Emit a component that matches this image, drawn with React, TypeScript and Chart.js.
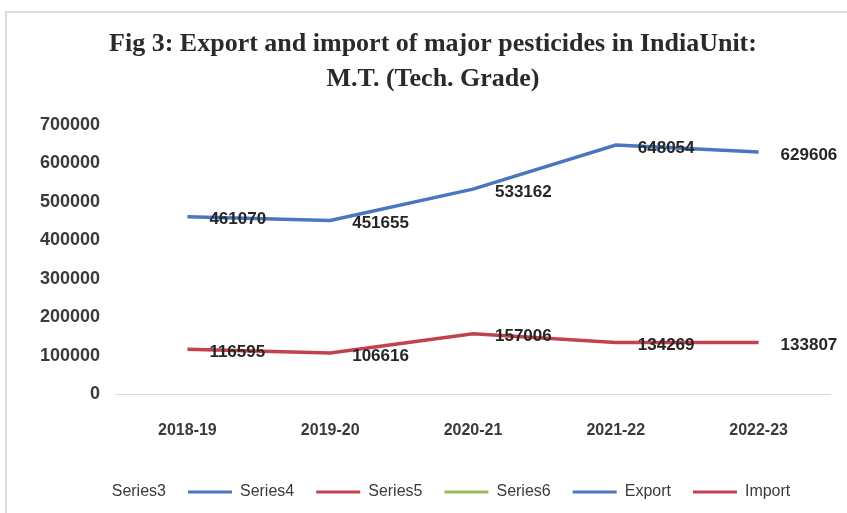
import React, { useEffect, useRef } from "react";
import { Chart, registerables } from "chart.js";

Chart.register(...registerables);

const categories = ["2018-19", "2019-20", "2020-21", "2021-22", "2022-23"];
const exportValues = [461070, 451655, 533162, 648054, 629606];
const importValues = [116595, 106616, 157006, 134269, 133807];
const emptySeries: (number | null)[] = [];
const yTicks = [0, 100000, 200000, 300000, 400000, 500000, 600000, 700000];
const titleLines = [
  "Fig 3: Export and import of major pesticides in IndiaUnit:",
  "M.T. (Tech. Grade)",
];

const BLUE = "#4a76c0";
const RED = "#c0424f";
const GREEN = "#9bbb59";
const TEXT = "#3a3a3a";
const FONT = "'Liberation Sans', Arial, sans-serif";

const dataLabelPlugin = {
  id: "dataLabels",
  afterDatasetsDraw(chart: any) {
    const ctx = chart.ctx;
    ctx.save();
    ctx.font = `bold 17px ${FONT}`;
    ctx.fillStyle = "#262626";
    ctx.textAlign = "left";
    ctx.textBaseline = "middle";
    chart.data.datasets.forEach((ds: any, di: number) => {
      if (!ds.showLabels) return;
      const meta = chart.getDatasetMeta(di);
      meta.data.forEach((pt: any, i: number) => {
        const v = ds.data[i];
        if (v == null) return;
        ctx.fillText(String(v), pt.x + 22, pt.y + 3);
      });
    });
    ctx.restore();
  },
};

const boxShiftPlugin = {
  id: "boxShift",
  afterLayout(chart: any) {
    const lg = chart.legend;
    if (lg) {
      lg.left += 10;
      lg.right += 10;
      lg.top += 1;
      lg.bottom += 1;
    }
    const tb = chart.titleBlock;
    if (tb) {
      tb.left += 18;
      tb.right += 18;
      tb.top += 1;
      tb.bottom += 1;
    }
  },
};

export default function App() {
  const ref = useRef<HTMLCanvasElement>(null);
  useEffect(() => {
    document.body.style.margin = "0";
    const canvas = ref.current!;
    const chart = new Chart(canvas, {
      type: "line",
      data: {
        labels: categories,
        datasets: [
          { label: "Series3", data: emptySeries, borderColor: "rgba(0,0,0,0)", backgroundColor: "rgba(0,0,0,0)", borderWidth: 0 },
          { label: "Series4", data: emptySeries, borderColor: BLUE, backgroundColor: BLUE, borderWidth: 3 },
          { label: "Series5", data: emptySeries, borderColor: RED, backgroundColor: RED, borderWidth: 3 },
          { label: "Series6", data: emptySeries, borderColor: GREEN, backgroundColor: GREEN, borderWidth: 3 },
          { label: "Export", data: exportValues, borderColor: BLUE, backgroundColor: BLUE, borderWidth: 3.5, showLabels: true } as any,
          { label: "Import", data: importValues, borderColor: RED, backgroundColor: RED, borderWidth: 3.5, showLabels: true } as any,
        ],
      },
      options: {
        responsive: false,
        animation: false,
        devicePixelRatio: 1,
        elements: { point: { radius: 0, hoverRadius: 0 }, line: { tension: 0 } },
        layout: { padding: { left: 0, right: 17, top: 0, bottom: 4 } },
        scales: {
          x: {
            type: "category",
            offset: true,
            grid: { display: false },
            border: { display: true, color: "#d9d9d9", width: 1 },
            ticks: { font: { family: FONT, size: 16, weight: "bold" }, color: TEXT, padding: 19, maxRotation: 0 },
            afterFit(scale: any) {
              scale.height = 67;
            },
          },
          y: {
            min: 0,
            max: 700000,
            grid: { display: false },
            border: { display: false },
            afterBuildTicks(scale: any) {
              scale.ticks = yTicks.map((v) => ({ value: v }));
            },
            ticks: {
              font: { family: FONT, size: 18, weight: "bold" },
              color: TEXT,
              padding: 8,
              callback: (v: any) => String(v),
            },
            afterFit(scale: any) {
              scale.width = 116;
            },
          },
        },
        plugins: {
          tooltip: { enabled: false },
          title: {
            display: true,
            text: titleLines,
            color: "#2a2a2a",
            font: { family: "'Liberation Serif', 'Times New Roman', serif", size: 26, weight: "bold", lineHeight: 1.346 },
            padding: { top: 26, bottom: 29 },
          },
          legend: {
            display: true,
            position: "bottom",
            labels: {
              font: { family: FONT, size: 16, weight: "normal" },
              color: TEXT,
              boxWidth: 44,
              boxHeight: 3,
              padding: 22,
              generateLabels(ch: any) {
                return ch.data.datasets.map((ds: any, i: number) => ({
                  text: ds.label,
                  fillStyle: ds.borderColor,
                  strokeStyle: ds.borderColor,
                  lineWidth: 0,
                  hidden: false,
                  datasetIndex: i,
                  fontColor: TEXT,
                }));
              },
            },
          },
        },
      } as any,
      plugins: [dataLabelPlugin, boxShiftPlugin],
    });
    return () => chart.destroy();
  }, []);

  return (
    <div style={{ position: "relative", width: 847, height: 513, overflow: "hidden", background: "#fff" }}>
      <canvas ref={ref} width={847} height={513} style={{ display: "block", width: 847, height: 513 }} />
      <div
        style={{
          position: "absolute",
          left: 5,
          top: 11,
          width: 900,
          height: 600,
          border: "2px solid #dcdcdc",
          pointerEvents: "none",
        }}
      />
    </div>
  );
}
